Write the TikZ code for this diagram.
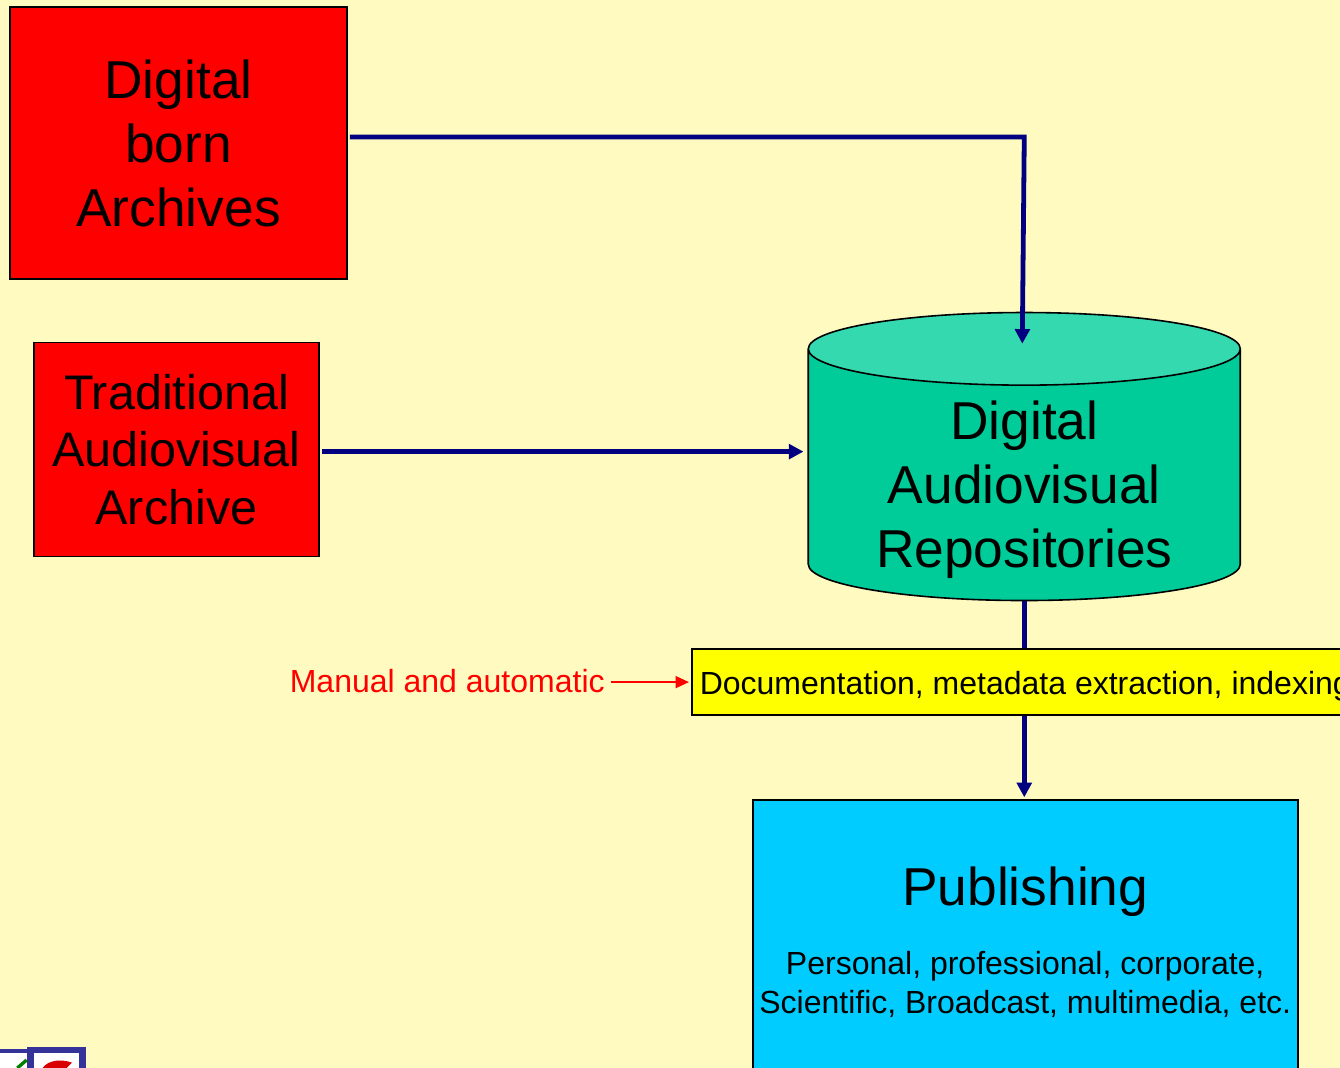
\documentclass[tikz,border=0pt]{standalone}
\usepackage{fontspec}
\setmainfont{Liberation Sans}
\usetikzlibrary{positioning,calc,arrows.meta,shapes.geometric}
\definecolor{background}{RGB}{255, 250, 192}
\definecolor{repobody}{RGB}{0, 204, 153}
\definecolor{repoend}{RGB}{53, 217, 176}
\definecolor{publishblue}{RGB}{0, 204, 255}
\definecolor{indexyellow}{RGB}{255, 255, 0}
\definecolor{linknavy}{RGB}{0, 0, 128}
\definecolor{logoblue}{RGB}{51, 51, 153}

\begin{document}
\begin{tikzpicture}[
            archive/.style={
                rectangle, draw=black, fill=red, line width=1.2pt,
                align=center, inner sep=0pt
            },
            repository/.style={
                cylinder, shape border rotate=90, draw=black, line width=1.2pt,
                cylinder uses custom fill, cylinder body fill=repobody, cylinder end fill=repoend,
                minimum width=324pt, minimum height=216pt, aspect=0.245,
                inner sep=0pt
            },
            bigtext/.style={font=\fontsize{40pt}{48pt}\selectfont, align=center, inner sep=0pt},
            midtext/.style={font=\fontsize{36.4pt}{43.1pt}\selectfont, align=center},
            smalltext/.style={font=\fontsize{24pt}{29.3pt}\selectfont, align=center, inner sep=0pt},
            link/.style={-{Triangle[length=11pt,width=11pt]}, draw=linknavy, line width=3.6pt},
            plainlink/.style={draw=linknavy, line width=3.6pt},
            notelink/.style={-{Triangle[length=10pt,width=9pt]}, draw=red, line width=1.2pt},
        ]
            \clip (0,0) rectangle (1005pt,-801pt);
            \fill [background] (0,0) rectangle (1005pt,-801pt);

            % sources
            \node [archive, bigtext, minimum width=252.75pt, minimum height=204pt, text depth=0pt] (born) at (133.875pt,-107.25pt) {Digital\\born\\Archives};
            \node [archive, midtext, inner sep=0pt, minimum width=213.75pt, minimum height=160.5pt] (traditional) [below=46.5pt of born, xshift=-1.5pt] {Traditional\\Audiovisual\\Archive};

            % repository, its text is a node of its own so it can sit lower than the cylinder sets it
            \node [repository, bigtext] (repo) [right=365.75pt of traditional, yshift=-19.1pt] {\phantom{Repositories}};
            \node [bigtext] (repotext) [below=-150.5pt of repo.south] {Digital\\Audiovisual\\Repositories};

            \node [rectangle, draw=black, fill=indexyellow, line width=1.2pt, font=\fontsize{24pt}{29.3pt}\selectfont, inner xsep=6pt, text height=23.5pt, text depth=5.2pt, minimum height=49.5pt] (indexing) [below right=35.25pt and -250pt of repo.south] {Documentation, metadata extraction, indexing};
            \node [font=\fontsize{24pt}{29.3pt}\selectfont, text=red, inner sep=0pt] (manual) [left=64.5pt of indexing, yshift=0.75pt] {Manual and automatic};

            \node [rectangle, draw=black, fill=publishblue, line width=1.2pt, minimum width=408.75pt, minimum height=240pt] (publishing) [below=148.5pt of repo.south, xshift=0.7pt] {};
            \node [bigtext] (publishtitle) [below=50.25pt of publishing.north] {Publishing};
            \node [smalltext] (publishtext) [below=25.5pt of publishtitle] {Personal, professional, corporate,\\Scientific, Broadcast, multimedia, etc.};

            % free ends of the links
            \coordinate (bornout) at ($(born.east)+(1.5pt,4.5pt)$);
            \coordinate (repotop) at ($(repo.north)+(-1.5pt,-24pt)$);
            \coordinate (bend) at (repo.north |- bornout);
            \coordinate (tradout) at ($(traditional.east)+(1.5pt,-1.5pt)$);
            \coordinate (repoin) at ($(repo.west |- tradout)+(-3pt,0)$);

            \draw [link] (bornout) -- (bend) -- (repotop);
            \draw [link] (tradout) -- (repoin);
            \draw [plainlink] (repo.south) -- (repo.south |- indexing.north);
            \draw [link] (repo.south |- indexing.south) -- ($(repo.south |- publishing.north)+(0,1.5pt)$);
            \draw [notelink] ($(manual.east |- indexing.west)+(4.5pt,0)$) -- ($(indexing.west)+(-1.5pt,0)$);

            % logo in the corner
            \fill [white] (0pt,-788pt) rectangle (63pt,-801pt);
            \draw [logoblue, line width=5pt] (23pt,-801pt) -- (23pt,-787.5pt) -- (62pt,-787.5pt) -- (62pt,-801pt);
            \draw [logoblue, line width=3pt] (0pt,-788.5pt) -- (23pt,-788.5pt);
            \draw [green!50!black, line width=2.5pt] (13pt,-801pt) -- (20pt,-795pt);
            \fill [red!85!black] (32pt,-801pt) .. controls (36pt,-795pt) and (46pt,-794pt) .. (54pt,-797pt) -- (50pt,-801pt) -- cycle;
        \end{tikzpicture}
\end{document}
